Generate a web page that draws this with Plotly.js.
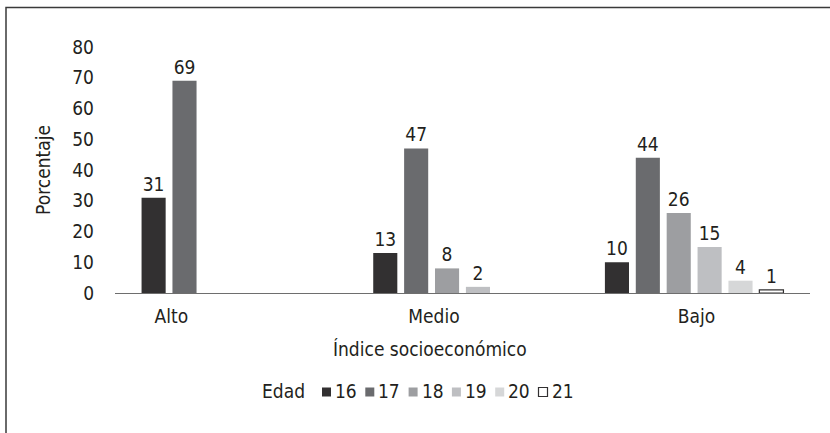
<!DOCTYPE html>
<html>
<head>
<meta charset="utf-8">
<script src="https://cdn.plot.ly/plotly-3.0.1.min.js"></script>
<style>html,body{margin:0;padding:0;background:#fff;}#chart{width:830px;height:433px;}</style>
</head>
<body>
<div id="chart"></div>
<script>
var categories = ["Alto", "Medio", "Bajo"];
var ages = ["16", "17", "18", "19", "20", "21"];
var v16 = [31, 13, 10];
var v17 = [69, 47, 44];
var v18 = [null, 8, 26];
var v19 = [null, 2, 15];
var v20 = [null, null, 4];
var v21 = [null, null, 1];
var yTicks = [0, 10, 20, 30, 40, 50, 60, 70, 80];

var series = [v16, v17, v18, v19, v20, v21];
var colors = ["#323031", "#6a6b6e", "#9d9ea1", "#bebfc2", "#d6d7d8", "#ffffff"];
var lineColors = ["#323031", "#6a6b6e", "#9d9ea1", "#bebfc2", "#d6d7d8", "#323031"];
var FONT = "'Liberation Sans Narrow', 'DejaVu Sans Condensed', 'Arial Narrow', sans-serif";
var TXT = "#231f20";
var xIdx = categories.map(function (c, i) { return i; });

var W = 830, H = 433;
var M = {l: 115, r: 20, t: 47, b: 140};
var PW = W - M.l - M.r, PH = H - M.t - M.b;
function px2x(px) { return (px - M.l) / PW; }
function py2y(py) { return (H - M.b - py) / PH; }

var bargap = 0.2;
var slot = (1 - bargap) / series.length;
// label under the bars that are present in each group
var tickPos = categories.map(function (c, i) {
  var n = 0;
  series.forEach(function (s) { if (s[i] !== null) n++; });
  return i - (1 - bargap) / 2 + n * slot / 2 + 0.01;
});

var traces = series.map(function (s, k) {
  return {
    type: "bar",
    name: ages[k],
    x: xIdx,
    y: s,
    text: s.map(function (v) { return v === null ? "" : String(v); }),
    textposition: "outside",
    cliponaxis: false,
    textfont: {family: FONT, size: 19, color: TXT},
    marker: {color: colors[k], line: {color: lineColors[k], width: k === 5 ? 1.2 : 0}},
    hoverinfo: "skip",
    showlegend: false
  };
});

// legend (drawn as shapes + text, from ages/colors)
var legY = 392, legX0 = 322, legPitch = 43.3, sq = 9;
var shapes = [{
  type: "rect", xref: "paper", yref: "paper",
  x0: px2x(6), x1: px2x(840),
  y0: py2y(445), y1: py2y(7.5),
  line: {color: "#3a3a3a", width: 1.5},
  fillcolor: "rgba(0,0,0,0)"
}];
var annotations = [{
  text: "Índice socioeconómico",
  xref: "paper", yref: "paper",
  x: px2x(430), y: py2y(349),
  xanchor: "center", yanchor: "middle",
  showarrow: false,
  font: {family: FONT, size: 19, color: TXT}
}, {
  text: "Edad",
  xref: "paper", yref: "paper",
  x: px2x(307), y: py2y(legY - 1),
  xanchor: "right", yanchor: "middle",
  showarrow: false,
  font: {family: FONT, size: 19, color: TXT}
}];
ages.forEach(function (a, k) {
  var sx = legX0 + legPitch * k;
  shapes.push({
    type: "rect", xref: "paper", yref: "paper",
    x0: px2x(sx), x1: px2x(sx + sq),
    y0: py2y(legY + sq / 2), y1: py2y(legY - sq / 2),
    fillcolor: colors[k],
    line: {color: lineColors[k], width: k === 5 ? 1.2 : 0}
  });
  annotations.push({
    text: a,
    xref: "paper", yref: "paper",
    x: px2x(sx + sq + 2), y: py2y(legY - 1),
    xanchor: "left", yanchor: "middle",
    showarrow: false,
    font: {family: FONT, size: 19, color: TXT}
  });
});

var layout = {
  width: W, height: H,
  margin: M,
  paper_bgcolor: "#ffffff",
  plot_bgcolor: "#ffffff",
  barmode: "group",
  bargap: bargap,
  bargroupgap: 0.22,
  font: {family: FONT, size: 19, color: TXT},
  showlegend: false,
  xaxis: {
    type: "linear",
    range: [-0.5, 2.5],
    tickmode: "array",
    tickvals: tickPos,
    ticktext: categories,
    showline: true, linecolor: "#6e6e6e", linewidth: 1.3,
    showgrid: false, zeroline: false,
    ticks: "",
    ticklabelstandoff: 6,
    tickfont: {family: FONT, size: 19, color: TXT},
    fixedrange: true
  },
  yaxis: {
    range: [0, 80],
    tickmode: "array",
    tickvals: yTicks,
    showline: false, showgrid: false, zeroline: false,
    ticks: "",
    ticklabelstandoff: 20,
    tickfont: {family: FONT, size: 19, color: TXT},
    title: {text: "Porcentaje", font: {family: FONT, size: 19, color: TXT}, standoff: 16},
    fixedrange: true
  },
  annotations: annotations,
  shapes: shapes
};

Plotly.newPlot("chart", traces, layout, {displayModeBar: false, staticPlot: true});
</script>
</body>
</html>
